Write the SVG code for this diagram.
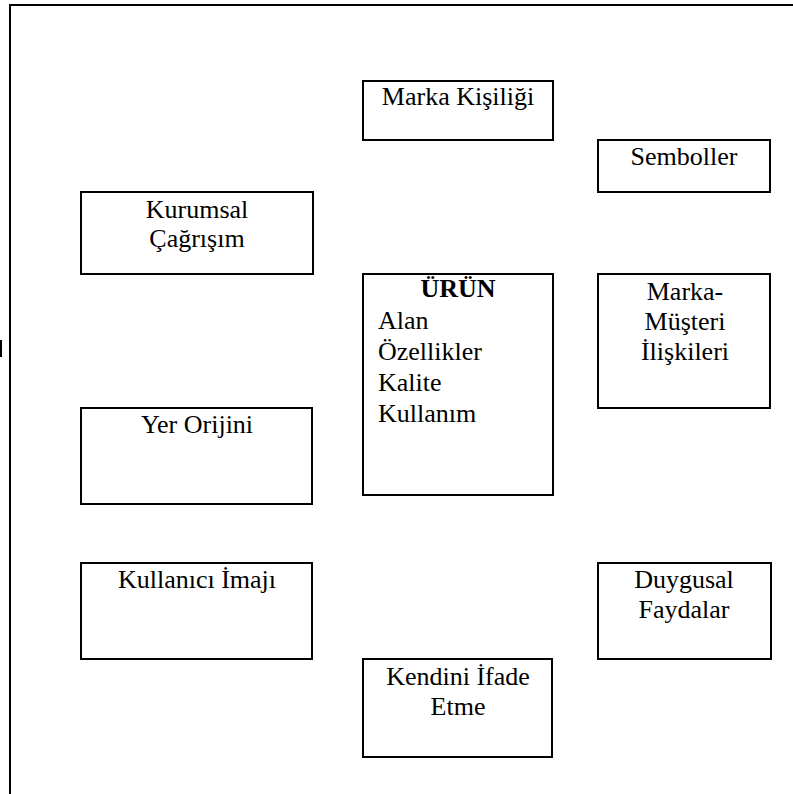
<svg xmlns="http://www.w3.org/2000/svg" width="793" height="794" viewBox="0 0 793 794">
  <style>
    .box { fill: #ffffff; stroke: #000000; stroke-width: 2; }
    .lbl { font-family: "Times New Roman", Times, "Liberation Serif", Tinos, "Nimbus Roman", "Nimbus Roman No9 L", FreeSerif, "Noto Serif", "DejaVu Serif", Georgia, serif; font-size: 26px; fill: #000000; }
    .mid { text-anchor: middle; }
    .bold { font-weight: bold; }
    .frame { fill: none; stroke: #000000; stroke-width: 2; }
  </style>
  <rect width="793" height="794" fill="#ffffff"/>

  <!-- page frame -->
  <g id="frame">
    <path class="frame" d="M10,794 V5 H793"/>
    <rect x="0" y="340" width="2" height="17" fill="#000000"/>
  </g>

  <g id="connectors"/>

  <g id="marka-kisiligi">
    <rect class="box" x="363" y="81" width="190" height="59"/>
    <text class="lbl mid" x="458" y="105">Marka Kişiliği</text>
  </g>

  <g id="semboller">
    <rect class="box" x="598" y="140" width="172" height="52"/>
    <text class="lbl mid" x="684" y="165">Semboller</text>
  </g>

  <g id="kurumsal-cagrisim">
    <rect class="box" x="81" y="192" width="232" height="82"/>
    <text class="lbl mid" x="197" y="218">Kurumsal</text>
    <text class="lbl mid" x="197" y="247">Çağrışım</text>
  </g>

  <g id="urun">
    <rect class="box" x="363" y="274" width="190" height="221"/>
    <text class="lbl mid bold" x="458" y="297">ÜRÜN</text>
    <text class="lbl" x="378" y="329">Alan</text>
    <text class="lbl" x="378" y="360">Özellikler</text>
    <text class="lbl" x="378" y="391">Kalite</text>
    <text class="lbl" x="378" y="422">Kullanım</text>
  </g>

  <g id="marka-musteri">
    <rect class="box" x="598" y="274" width="172" height="134"/>
    <text class="lbl mid" x="685" y="300">Marka-</text>
    <text class="lbl mid" x="685" y="330">Müşteri</text>
    <text class="lbl mid" x="685" y="360">İlişkileri</text>
  </g>

  <g id="yer-orijini">
    <rect class="box" x="81" y="408" width="231" height="96"/>
    <text class="lbl mid" x="197" y="433">Yer Orijini</text>
  </g>

  <g id="kullanici-imaji">
    <rect class="box" x="81" y="563" width="231" height="96"/>
    <text class="lbl mid" x="197" y="588">Kullanıcı İmajı</text>
  </g>

  <g id="duygusal-faydalar">
    <rect class="box" x="598" y="563" width="173" height="96"/>
    <text class="lbl mid" x="684" y="588">Duygusal</text>
    <text class="lbl mid" x="684" y="618">Faydalar</text>
  </g>

  <g id="kendini-ifade">
    <rect class="box" x="363" y="659" width="189" height="98"/>
    <text class="lbl mid" x="458" y="685">Kendini İfade</text>
    <text class="lbl mid" x="458" y="715">Etme</text>
  </g>
</svg>
